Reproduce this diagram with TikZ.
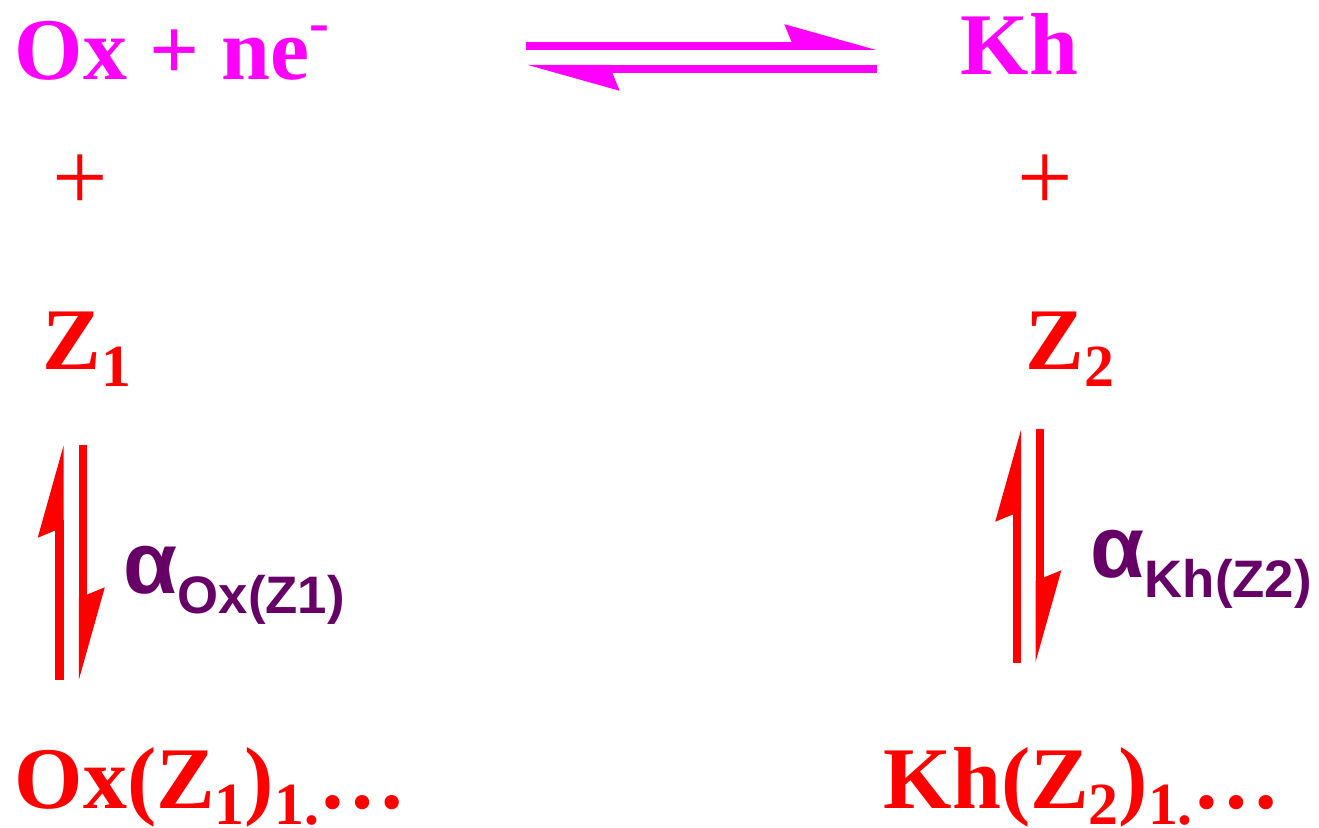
\documentclass[tikz,border=0pt]{standalone}
\usepackage{fontspec}
\setmainfont{Liberation Serif}
\setsansfont{Liberation Sans}
\usetikzlibrary{arrows.meta}
\definecolor{mag}{RGB}{255,0,255}
\definecolor{plum}{RGB}{102,0,102}
\newcommand{\lowsub}[1]{\raisebox{-0.16cm}{\fontsize{17}{20}\selectfont #1}}
\newcommand{\charge}[1]{\raisebox{0.37cm}{\fontsize{17}{20}\selectfont #1}}
\newcommand{\alphasub}[1]{\raisebox{-0.2cm}{\fontsize{15}{18}\selectfont #1}}

\begin{document}
\begin{tikzpicture}[x=0.01cm,y=-0.01cm,
    chem/.style={font=\fontsize{25}{30}\selectfont\bfseries,inner sep=0,anchor=base west},
    plus/.style={font=\fontsize{28}{32}\selectfont,text=red,inner sep=0},
    lbl/.style={font=\fontsize{25}{30}\selectfont\sffamily\bfseries,text=plum,inner sep=0,anchor=base west},
    eqarrow/.style={line width=0.08cm,-{Stealth[harpoon,length=0.77cm,width=0.42cm,inset=0.08cm]}}]
    \useasboundingbox (0,0) rectangle (1319,828);
    % top equilibrium
    \node[chem,text=mag] (ox) at (14,80) {Ox + ne\charge{-}};
    \node[chem,text=mag] (kh) at (960,75) {Kh};
    \coordinate (fwdL) at (526,46);
    \coordinate (fwdR) at (877,46);
    \coordinate (bckR) at (877,69);
    \coordinate (bckL) at (527,69);
    \draw[mag,eqarrow] (fwdL) -- (fwdR);
    \draw[mag,eqarrow] (bckR) -- (bckL);
    % plus signs and ligands
    \node[plus] (plus1) at (80,183) {+};
    \node[plus] (plus2) at (1045,183) {+};
    \node[chem,text=red] (z1) at (42,370) {Z\lowsub{1}};
    \node[chem,text=red] (z2) at (1025,370) {Z\lowsub{2}};
    % complex formation, left
    \coordinate (upL1) at (59.5,680);
    \coordinate (upT1) at (59.5,445);
    \coordinate (dnT1) at (83,445);
    \coordinate (dnB1) at (83,680);
    \draw[red,eqarrow] (upL1) -- (upT1);
    \draw[red,eqarrow] (dnT1) -- (dnB1);
    \node[lbl] (a1) at (123,593) {α\alphasub{Ox(Z1)}};
    % complex formation, right
    \coordinate (upL2) at (1017,663);
    \coordinate (upT2) at (1017,429);
    \coordinate (dnT2) at (1039.5,429);
    \coordinate (dnB2) at (1039.5,663);
    \draw[red,eqarrow] (upL2) -- (upT2);
    \draw[red,eqarrow] (dnT2) -- (dnB2);
    \node[lbl] (a2) at (1090,577) {α\alphasub{Kh(Z2)}};
    % complexes
    \node[chem,text=red] (oxz) at (14,808) {Ox(Z\lowsub{1})\lowsub{1.}…};
    \node[chem,text=red] (khz) at (883,808) {Kh(Z\lowsub{2})\lowsub{1.}…};
\end{tikzpicture}
\end{document}
